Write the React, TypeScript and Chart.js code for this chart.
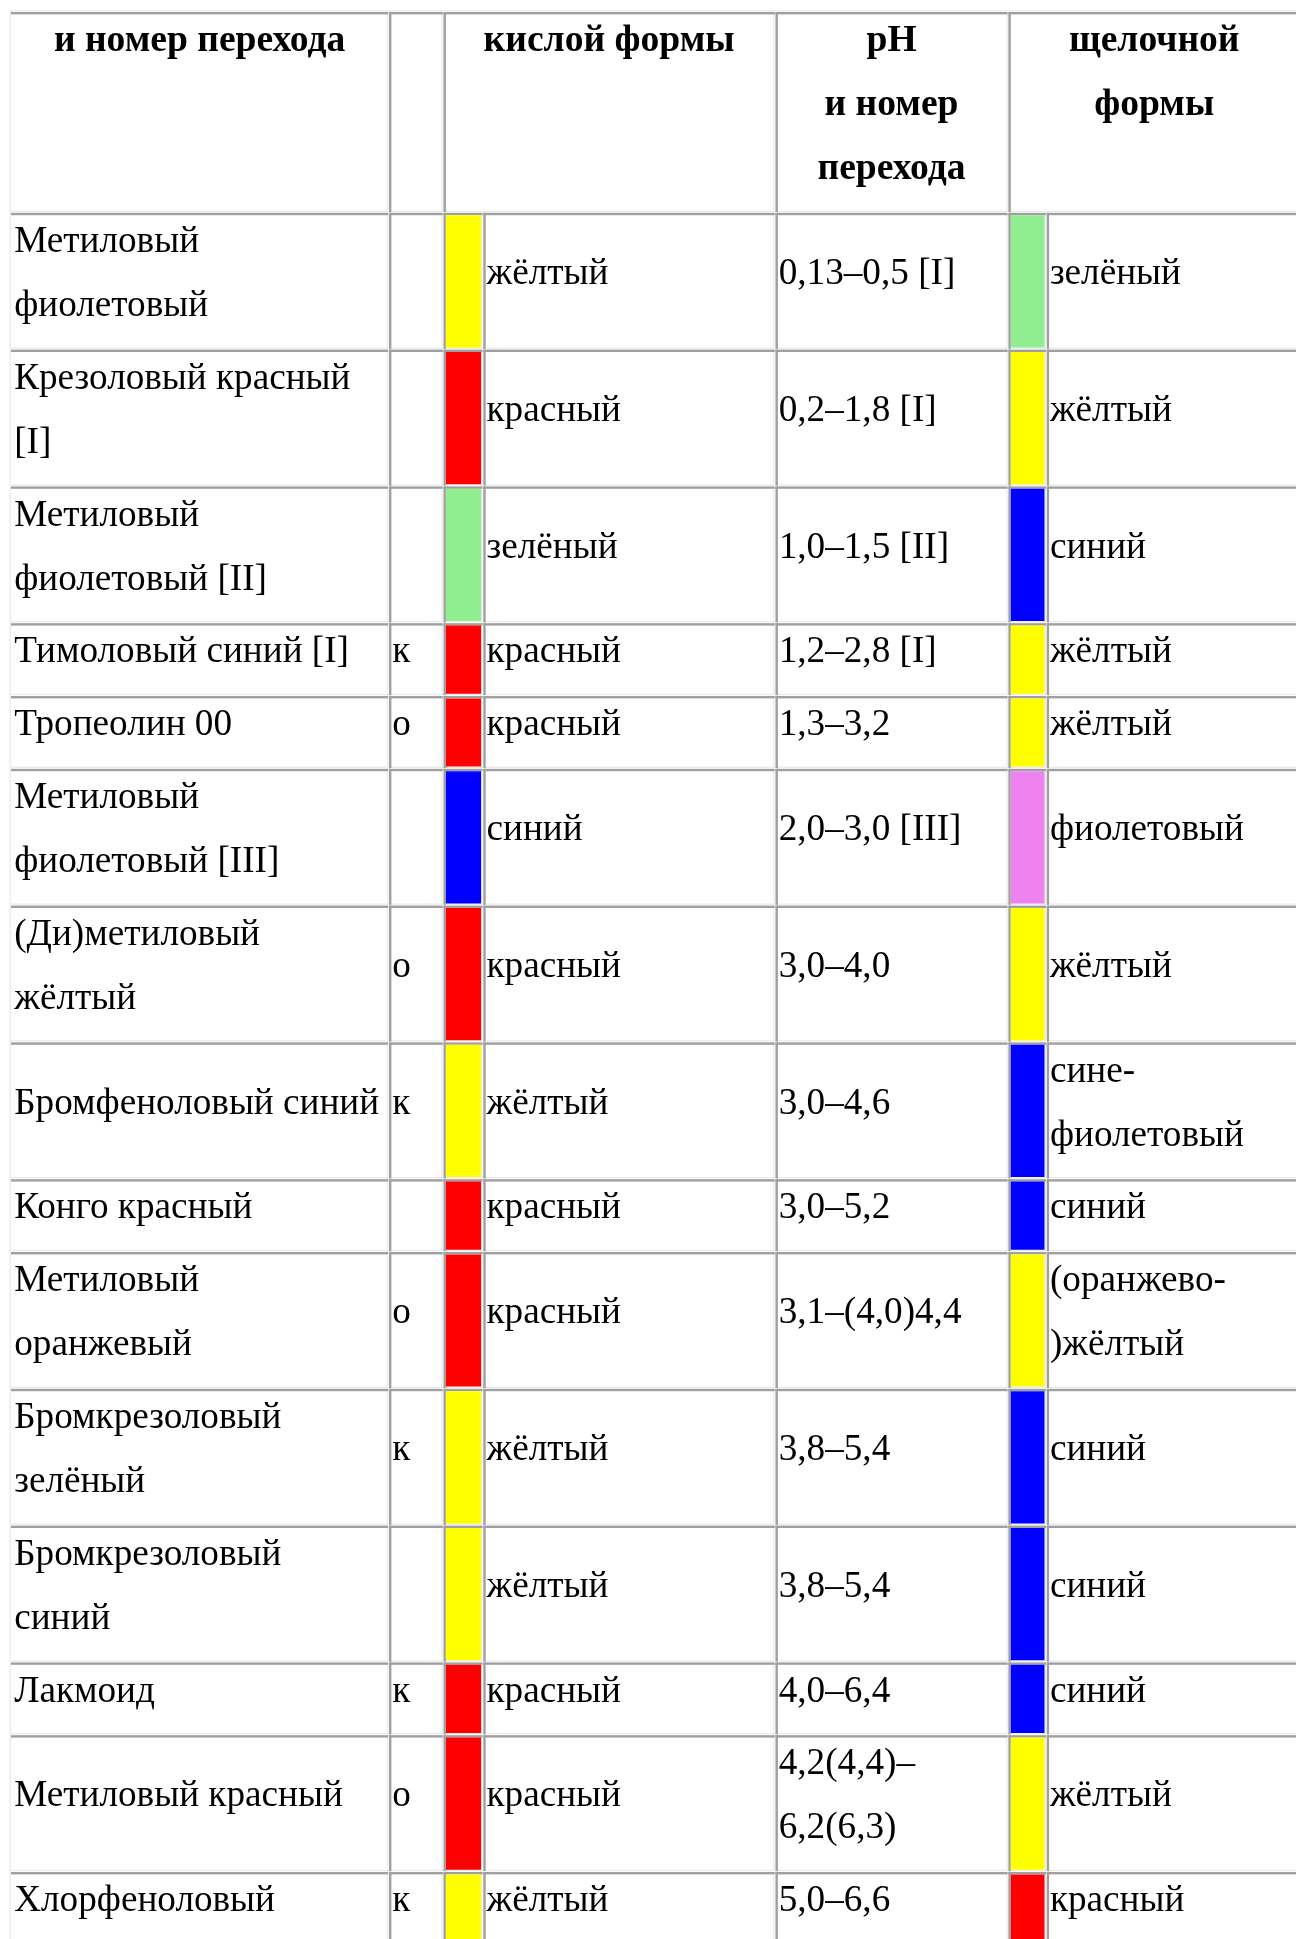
import React, { useEffect, useRef } from "react";
import { Chart, registerables } from "chart.js";

Chart.register(...registerables);

// ---------- data ----------
const headerName = ["и номер перехода"];
const headerType: string[] = [];
const headerAcid = ["кислой формы"];
const headerPH = ["pH", "и номер", "перехода"];
const headerBase = ["щелочной", "формы"];

const indicatorNames: string[][] = [
  ["Метиловый", "фиолетовый"],
  ["Крезоловый красный", "[I]"],
  ["Метиловый", "фиолетовый [II]"],
  ["Тимоловый синий [I]"],
  ["Тропеолин 00"],
  ["Метиловый", "фиолетовый [III]"],
  ["(Ди)метиловый", "жёлтый"],
  ["Бромфеноловый синий"],
  ["Конго красный"],
  ["Метиловый", "оранжевый"],
  ["Бромкрезоловый", "зелёный"],
  ["Бромкрезоловый", "синий"],
  ["Лакмоид"],
  ["Метиловый красный"],
  ["Хлорфеноловый"],
];

const indicatorTypes = ["", "", "", "к", "о", "", "о", "к", "", "о", "к", "", "к", "о", "к"];

const acidColors = [
  "#ffff00", "#ff0000", "#90ee90", "#ff0000", "#ff0000", "#0000ff", "#ff0000", "#ffff00",
  "#ff0000", "#ff0000", "#ffff00", "#ffff00", "#ff0000", "#ff0000", "#ffff00",
];

const acidNames: string[][] = [
  ["жёлтый"], ["красный"], ["зелёный"], ["красный"], ["красный"], ["синий"], ["красный"], ["жёлтый"],
  ["красный"], ["красный"], ["жёлтый"], ["жёлтый"], ["красный"], ["красный"], ["жёлтый"],
];

const phRanges: string[][] = [
  ["0,13–0,5 [I]"], ["0,2–1,8 [I]"], ["1,0–1,5 [II]"], ["1,2–2,8 [I]"], ["1,3–3,2"],
  ["2,0–3,0 [III]"], ["3,0–4,0"], ["3,0–4,6"], ["3,0–5,2"], ["3,1–(4,0)4,4"],
  ["3,8–5,4"], ["3,8–5,4"], ["4,0–6,4"], ["4,2(4,4)–", "6,2(6,3)"], ["5,0–6,6"],
];

const baseColors = [
  "#90ee90", "#ffff00", "#0000ff", "#ffff00", "#ffff00", "#ee82ee", "#ffff00", "#0000ff",
  "#0000ff", "#ffff00", "#0000ff", "#0000ff", "#0000ff", "#ffff00", "#ff0000",
];

const baseNames: string[][] = [
  ["зелёный"], ["жёлтый"], ["синий"], ["жёлтый"], ["жёлтый"], ["фиолетовый"], ["жёлтый"],
  ["сине-", "фиолетовый"], ["синий"], ["(оранжево-", ")жёлтый"], ["синий"], ["синий"], ["синий"],
  ["жёлтый"], ["красный"],
];

// ---------- layout (styles / geometry) ----------
const W = 1296;
const H = 1939;
const COL_L = [11, 389, 443.5, 483.3, 775.5, 1008.4, 1046.7, 1300.8];
const TABLE_TOP = 12;
const BASE_H = 72.8;
const LINE_H = 64;
const BASELINE = 39.2;
const TEXT_PAD = 3.2;
const DARK = "#a0a0a0";
const LIGHT = "#ececec";
const DARK_W = 2.4;
const LIGHT_W = 1.4;
const GAP = 0.8;
const FONT_SIZE = 37.2;
const HEADER_FONT_SIZE = 37.6;
const FONT_FAMILY = '"Liberation Serif", "Times New Roman", serif';

const headerLines = Math.max(headerName.length, headerType.length, headerAcid.length, headerPH.length, headerBase.length);
const rowLines = indicatorNames.map((n, i) =>
  Math.max(1, n.length, acidNames[i].length, phRanges[i].length, baseNames[i].length)
);
const rowHeight = (lines: number) => BASE_H + LINE_H * (lines - 1);
const rowTops: number[] = [TABLE_TOP, TABLE_TOP + rowHeight(headerLines)];
rowLines.forEach((l) => rowTops.push(rowTops[rowTops.length - 1] + rowHeight(l)));

const swatchSpan = (c: number) => [COL_L[c] + DARK_W, COL_L[c + 1] - GAP - LIGHT_W];

export default function App() {
  const ref = useRef<HTMLCanvasElement | null>(null);

  useEffect(() => {
    const canvas = ref.current;
    if (!canvas) return;

    const tablePlugin = {
      id: "tableGrid",
      beforeDatasetsDraw(chart: any) {
        const { ctx, scales } = chart;
        const px = (v: number) => scales.x.getPixelForValue(v);
        const py = (v: number) => scales.y.getPixelForValue(v);
        ctx.save();
        const drawCell = (c0: number, c1: number, r: number) => {
          const L = px(COL_L[c0]);
          const R = px(COL_L[c1] - GAP);
          const T = py(rowTops[r]);
          const B = py(rowTops[r + 1] - GAP);
          ctx.fillStyle = LIGHT;
          ctx.fillRect(R - LIGHT_W, T, LIGHT_W, B - T);
          ctx.fillRect(L, B - LIGHT_W, R - L, LIGHT_W);
          ctx.fillStyle = DARK;
          ctx.fillRect(L, T, R - L, DARK_W);
          if (c0 > 0) ctx.fillRect(L, T, DARK_W, B - T);
        };
        // outer table edges
        ctx.fillStyle = LIGHT;
        ctx.fillRect(px(9.6), py(10.2), 1.4, py(H) - py(10.2));
        ctx.fillRect(px(9.6), py(10.2), px(COL_L[7]) - px(9.6), 1.4);
        // header cells
        [[0, 1], [1, 2], [2, 4], [4, 5], [5, 7]].forEach(([a, b]) => drawCell(a, b, 0));
        // body cells
        rowLines.forEach((_, i) => {
          for (let c = 0; c < 7; c++) drawCell(c, c + 1, i + 1);
        });
        ctx.restore();
      },
      afterDatasetsDraw(chart: any) {
        const { ctx, scales } = chart;
        const px = (v: number) => scales.x.getPixelForValue(v);
        const py = (v: number) => scales.y.getPixelForValue(v);
        ctx.save();
        ctx.fillStyle = "#000";
        ctx.textBaseline = "alphabetic";
        // header
        ctx.font = `bold ${HEADER_FONT_SIZE}px ${FONT_FAMILY}`;
        ctx.textAlign = "center";
        const headerCells: [number, number, string[]][] = [
          [0, 1, headerName],
          [1, 2, headerType],
          [2, 4, headerAcid],
          [4, 5, headerPH],
          [5, 7, headerBase],
        ];
        headerCells.forEach(([a, b, lines]) => {
          const cx = (px(COL_L[a]) + px(COL_L[b] - GAP)) / 2;
          lines.forEach((t, k) => ctx.fillText(t, cx, py(rowTops[0] + BASELINE + k * LINE_H)));
        });
        // body
        ctx.font = `${FONT_SIZE}px ${FONT_FAMILY}`;
        ctx.textAlign = "left";
        rowLines.forEach((n, i) => {
          const top = rowTops[i + 1];
          const cells: [number, string[]][] = [
            [0, indicatorNames[i]],
            [1, indicatorTypes[i] ? [indicatorTypes[i]] : []],
            [3, acidNames[i]],
            [4, phRanges[i]],
            [6, baseNames[i]],
          ];
          cells.forEach(([c, lines]) => {
            const off = ((n - lines.length) / 2) * LINE_H;
            lines.forEach((t, k) =>
              ctx.fillText(t, px(COL_L[c] + TEXT_PAD), py(top + BASELINE + off + k * LINE_H))
            );
          });
        });
        ctx.restore();
      },
    };

    const acidSpan = swatchSpan(2);
    const baseSpan = swatchSpan(5);

    const chart = new Chart(canvas, {
      type: "bar",
      data: {
        datasets: [
          {
            label: "кислой формы",
            data: rowLines.map((_, i) => ({
              x: (acidSpan[0] + acidSpan[1]) / 2,
              y: [rowTops[i + 1] + DARK_W, rowTops[i + 2] - GAP - LIGHT_W],
            })) as any,
            backgroundColor: acidColors,
            barThickness: acidSpan[1] - acidSpan[0],
            grouped: false,
            borderWidth: 0,
            inflateAmount: 0,
          } as any,
          {
            label: "щелочной формы",
            data: rowLines.map((_, i) => ({
              x: (baseSpan[0] + baseSpan[1]) / 2,
              y: [rowTops[i + 1] + DARK_W, rowTops[i + 2] - GAP - LIGHT_W],
            })) as any,
            backgroundColor: baseColors,
            barThickness: baseSpan[1] - baseSpan[0],
            grouped: false,
            borderWidth: 0,
            inflateAmount: 0,
          } as any,
        ],
      },
      options: {
        animation: false,
        responsive: false,
        devicePixelRatio: 1,
        layout: { padding: 0 },
        plugins: { legend: { display: false }, tooltip: { enabled: false }, title: { display: false } },
        events: [],
        scales: {
          x: { type: "linear", min: 0, max: W, offset: false, display: false },
          y: { type: "linear", min: 0, max: H, reverse: true, offset: false, display: false },
        },
      },
      plugins: [tablePlugin],
    });

    return () => chart.destroy();
  }, []);

  return (
    <div
      style={{
        position: "absolute",
        left: 0,
        top: 0,
        width: W,
        height: H,
        overflow: "hidden",
        background: "#ffffff",
      }}
    >
      <canvas ref={ref} width={W} height={H} style={{ display: "block", width: W, height: H }} />
    </div>
  );
}
